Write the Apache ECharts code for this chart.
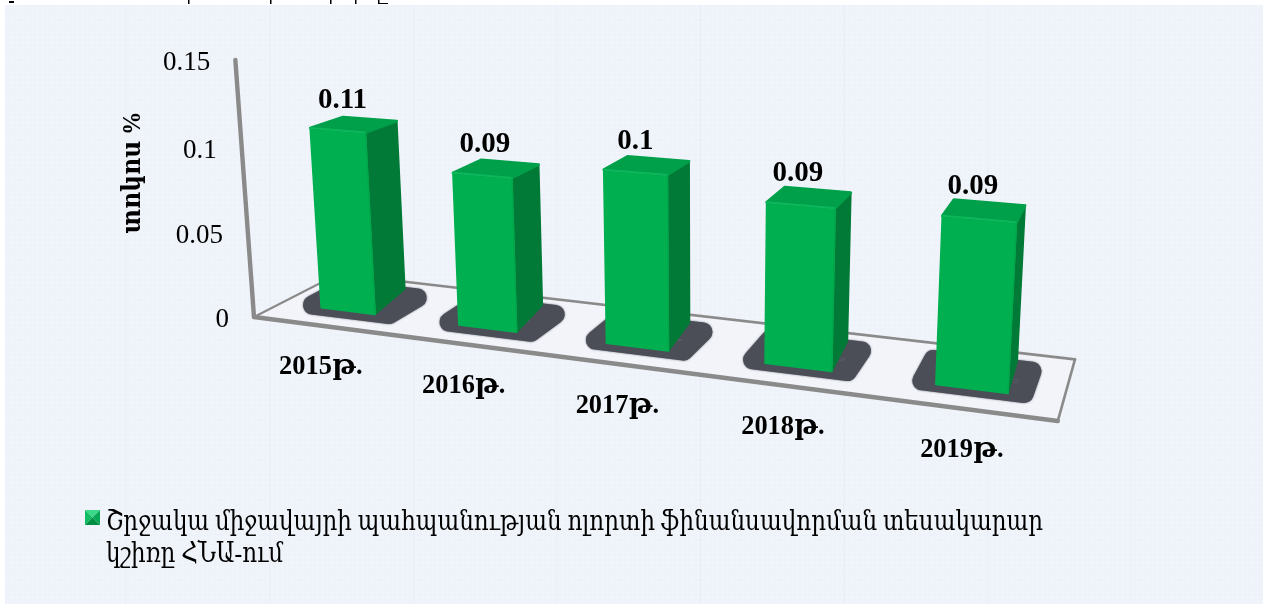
<!DOCTYPE html>
<html><head><meta charset="utf-8">
<style>
html,body{margin:0;padding:0;background:#fff;width:1263px;height:604px;overflow:hidden}
#bg{position:absolute;left:5px;top:5px;right:0;bottom:0;background-color:#EEF2F9;
background-image:linear-gradient(90deg,#E9EDF5 1px,transparent 1px),radial-gradient(circle,#F2F5FB 35%,transparent 37%);
background-size:143.5px 100%,5px 5px;background-position:121px 0,0 0}
#chart{position:absolute;left:0;top:0;width:1263px;height:604px}
</style></head><body><div id="bg"></div><div id="chart"></div>
<script src="https://cdn.jsdelivr.net/npm/echarts@6/dist/echarts.min.js"></script>
<script>
const categories = ['2015թ.','2016թ.','2017թ.','2018թ.','2019թ.'];
const barValues = [0.108, 0.089, 0.098, 0.088, 0.089];
const yTicks = [0, 0.05, 0.1, 0.15];
const yTickLabels = ['0','0.05','0.1','0.15'];
const valueLabels = ['0.11','0.09','0.1','0.09','0.09'];
const yAxisName = 'տոկոս %';
const legendLines = ['Շրջակա միջավայրի պահպանության ոլորտի ֆինանսավորման տեսակարար','կշիռը ՀՆԱ-ում'];
const seriesName = legendLines.join(' ');

// Hidden plain cartesian grid supplies the scales; a camera projection tilts it.
const GRID = {left:0, top:0, width:500, height:300};
const ORIGIN = [254,317], VX=[-3643,-187], VZ=[1225,-180], VY=[704,6519];
const AX=-0.0342, AZ=0.0947, AY=-0.0398;
function project(px,py,depth){
  const X=px/GRID.width*categories.length, H=(GRID.height-py)/GRID.height;
  const w=1+AX*X+AZ*depth+AY*H;
  return [(ORIGIN[0]+AX*X*VX[0]+AZ*depth*VZ[0]+AY*H*VY[0])/w,
          (ORIGIN[1]+AX*X*VX[1]+AZ*depth*VZ[1]+AY*H*VY[1])/w];
}
const SERIF='"Liberation Serif","DejaVu Serif",serif';
const TXT_DY=2.5;
const BAR={half:0.20,z0:0.31,z1:0.70,backLift:0.005};
const SHADOW={half:0.285,z0:0.34,z1:0.71};
function poly(points,fill,stroke,lw,z2){
  return {type:'polygon',z2:z2||0,shape:{points},style:{fill,stroke:stroke||fill,lineWidth:lw==null?1:lw,lineJoin:'round'}};
}
function line(a,b,color,lw,z2){
  return {type:'line',z2:z2||0,shape:{x1:a[0],y1:a[1],x2:b[0],y2:b[1]},style:{stroke:color,lineWidth:lw,lineCap:'round'}};
}
function renderFloor(params,api){
  const l=api.coord([0,0]), bw=api.size([1,0])[0];
  const x0=l[0]-bw/2, x1=x0+bw*categories.length, y0=l[1];
  const top=api.coord([0,yTicks[yTicks.length-1]])[1];
  const A=project(x0,y0,0),B=project(x1,y0,0),C=project(x1,y0,1),D=project(x0,y0,1),T=project(x0,top,0);
  const g='#8A8A8A';
  return {type:'group',children:[
    poly([A,B,C,D],'#F2F4FA',null,0),
    line(A,D,g,2),line(D,C,g,2.6),line(C,B,g,2.6),line(A,B,g,4.4),line(A,T,g,4.4)
  ]};
}
function renderShadow(params,api){
  const i=api.value(0), c=api.coord([i,0]), bw=api.size([1,0])[0];
  const m=c[0], w=SHADOW.half*bw;
  const p=poly([project(m-w,c[1],SHADOW.z0),project(m+w,c[1],SHADOW.z0),project(m+w,c[1],SHADOW.z1),project(m-w,c[1],SHADOW.z1)],'#4C4E57','#4C4E57',19);
  p.style.shadowBlur=2; p.style.shadowColor='#6A6C75';
  return p;
}
function renderBar(params,api){
  const i=api.value(0), v=api.value(1);
  const top=api.coord([i,v]), base=api.coord([i,0]), lift=api.coord([i,BAR.backLift]), bw=api.size([1,0])[0];
  const m=top[0], w=BAR.half*bw;
  const f=project;
  const a=f(m-w,base[1],BAR.z0),b=f(m+w,base[1],BAR.z0),c=f(m+w,lift[1],BAR.z1);
  const a2=f(m-w,top[1],BAR.z0),b2=f(m+w,top[1],BAR.z0),c2=f(m+w,top[1],BAR.z1),d2=f(m-w,top[1],BAR.z1);
  return {type:'group',children:[
    poly([b,c,c2,b2],'#007A36','#007A36',1.5),
    poly([a,b,b2,a2],'#00B050','#00B050',1.5),
    poly([a2,b2,c2,d2],'#00A04A','#00A04A',2.5),
    line(a2,b2,'#0DB75C',2),
    line(b,b2,'#00A74C',1.5)
  ]};
}
function txt(x,y,text,font,extra){
  return Object.assign({type:'text',x,y:y+TXT_DY,style:{text,font,fill:'#000',align:'center',verticalAlign:'middle'}},extra||{});
}
function renderValueLabel(params,api){
  const i=api.value(0), v=api.value(1), c=api.coord([i,v]);
  const p=project(c[0],c[1],(BAR.z0+BAR.z1)/2);
  return txt(p[0]-11.5,p[1]-26.5,valueLabels[i],'bold 29px '+SERIF);
}
function renderCatLabel(params,api){
  const i=api.value(0), c=api.coord([i,0]);
  const p=project(c[0],c[1],0);
  return txt(p[0]-1,p[1]+39,categories[i],'bold 27.5px '+SERIF,{scaleX:0.96});
}
function renderTick(params,api){
  const i=params.dataIndex, c=api.coord([0,api.value(0)]), bw=api.size([1,0])[0];
  const p=project(c[0]-bw/2,c[1],0);
  const t=txt(p[0]-25,p[1],yTickLabels[i],'27px '+SERIF);
  t.style.align='right';
  return t;
}
function renderExtras(){
  const tri=(pts,fill)=>({type:'polygon',shape:{points:pts},style:{fill}});
  const L=85,T=510,S=15,cx=L+S/2,cy=T+S/2;
  const scraps=[[9,1,5,2],[188,0,1.5,4],[270,0,1.5,4],[330,0,1.5,4],[355,0,1.5,4],[378,0,1.5,4],[379,3,9,1]];
  const left=(e)=>{e.style.align='left';return e;};
  return {type:'group',children:[
    txt(133,170,yAxisName,'bold 26px '+SERIF,{rotation:Math.PI/2,scaleX:0.9}),
    tri([[L,T],[L+S,T],[cx,cy]],'#3AD888'),
    tri([[L,T],[L,T+S],[cx,cy]],'#12BC62'),
    tri([[L+S,T],[L+S,T+S],[cx,cy]],'#07A855'),
    tri([[L,T+S],[L+S,T+S],[cx,cy]],'#008F42'),
    left(txt(106,520,legendLines[0],'27px '+SERIF,{scaleX:0.852})),
    left(txt(106,552,legendLines[1],'27px '+SERIF,{scaleX:0.852}))
  ].concat(scraps.map(r=>({type:'rect',shape:{x:r[0],y:r[1],width:r[2],height:r[3]},style:{fill:'#000'}})))};
}
const catIndex=categories.map((c,i)=>i);
const chart=echarts.init(document.getElementById('chart'),null,{renderer:'canvas'});
const common={type:'custom',silent:true,animation:false,clip:false};
chart.setOption({
  animation:false,
  grid:Object.assign({containLabel:false},GRID),
  xAxis:{type:'category',data:categories,show:false},
  yAxis:{type:'value',min:0,max:0.15,interval:0.05,show:false},
  series:[
    Object.assign({},common,{name:'floor',z:1,renderItem:renderFloor,data:[[0]]}),
    Object.assign({},common,{name:'shadow',z:2,renderItem:renderShadow,data:catIndex.map(i=>[i])}),
    Object.assign({},common,{name:seriesName,z:3,renderItem:renderBar,data:barValues.map((v,i)=>[i,v])}),
    Object.assign({},common,{name:'values',z:4,renderItem:renderValueLabel,data:barValues.map((v,i)=>[i,v])}),
    Object.assign({},common,{name:'categories',z:4,renderItem:renderCatLabel,data:catIndex.map(i=>[i])}),
    Object.assign({},common,{name:'ticks',z:4,renderItem:renderTick,data:yTicks.map(v=>[v]),encode:{y:0}}),
    Object.assign({},common,{name:'extras',z:4,renderItem:renderExtras,data:[[0]]})
  ]
});
</script></body></html>
